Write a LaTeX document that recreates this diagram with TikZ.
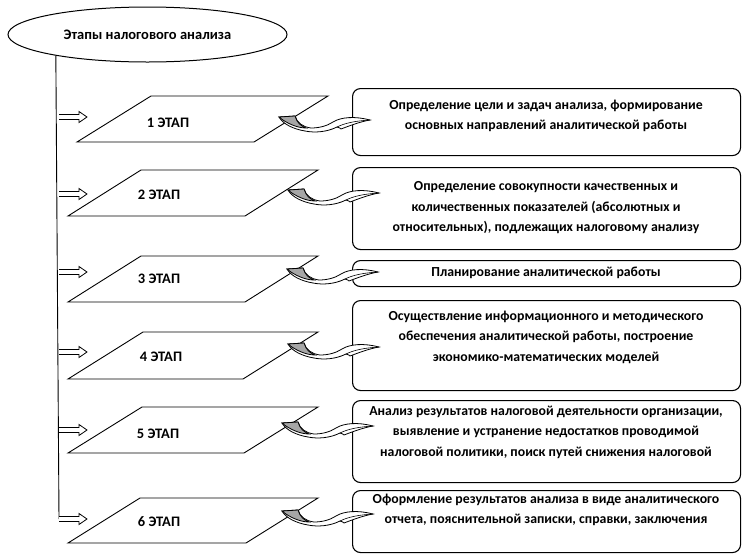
\documentclass[tikz,border=0pt]{standalone}
\usepackage{fontspec}
\setmainfont{Carlito}
\usetikzlibrary{shapes.geometric}
\begin{document}
\begin{tikzpicture}[x=1pt,y=-1pt,line width=0.9pt,
  txt/.style={font=\bfseries\fontsize{14.5}{20}\selectfont, inner sep=0pt},
  boxtxt/.style={font=\bfseries\fontsize{13.8}{20.5}\selectfont, inner sep=0pt, align=center},
  stagebox/.style={draw, rounded corners=8pt, line width=1.1pt, inner sep=0pt, anchor=north west},
  para/.style={draw, fill=white, line width=0.9pt},
  blockarr/.pic={\draw[fill=white, line width=0.8pt] (0,-2.5) -- (20,-2.5) -- (20,-5.5) -- (28,0) -- (20,5.5) -- (20,2.5) -- (0,2.5);},
  curvarr/.pic={
    \draw[fill=white, line width=0.8pt] (0,0) -- (16,-1)
      .. controls (18,6) and (24,10) .. (32,11)
      .. controls (40,11) and (48,9) .. (54,5)
      .. controls (62,0) and (76,-1) .. (91,3)
      .. controls (80,5) and (70,9) .. (62,12)
      .. controls (61,11) .. (58,10)
      .. controls (48,15) and (36,16) .. (26,14)
      .. controls (14,12) and (4,7) .. (0,0) -- cycle;
    \draw[fill=gray!70, line width=0.8pt] (0,0) -- (16,-1)
      .. controls (18,6) and (22,9) .. (27,11)
      .. controls (18,11) and (7,6) .. (0,0) -- cycle;
    \draw[line width=0.6pt] (58,10) .. controls (66,6) and (76,4) .. (91,3);
  }]
\useasboundingbox (0,0) rectangle (744,555);
\fill[white] (0,0) rectangle (744,555);

% title ellipse
\node[ellipse, draw, line width=1pt, minimum width=279pt, minimum height=55pt, txt] (e) at (147.5,34.5) {Этапы налогового анализа};

% spine coordinates
\coordinate (sp1) at (59,117);
\coordinate (sp2) at (59,194);
\coordinate (sp3) at (59,272);
\coordinate (sp4) at (59,352);
\coordinate (sp5) at (59,430);
\coordinate (sp6) at (59,519);
\draw (e.193.5) -- (sp6);

% parallelograms
\draw[para] (77,142) -- ++(74,-46) -- ++(177,0) -- ++(-74,46) -- cycle;
\draw[para] (68,216) -- ++(73,-46) -- ++(177,0) -- ++(-73,46) -- cycle;
\draw[para] (68,302) -- ++(73,-46) -- ++(177,0) -- ++(-73,46) -- cycle;
\draw[para] (68,379) -- ++(75,-47) -- ++(175,0) -- ++(-75,47) -- cycle;
\draw[para] (68,453) -- ++(74,-46) -- ++(176,0) -- ++(-74,46) -- cycle;
\draw[para] (68,543) -- ++(72,-45) -- ++(178,0) -- ++(-72,45) -- cycle;

\node[txt] (l1) at (168,123) {1 ЭТАП};
\node[txt] (l2) at (159,195) {2 ЭТАП};
\node[txt] (l3) at (159,279) {3 ЭТАП};
\node[txt] (l4) at (161,357) {4 ЭТАП};
\node[txt] (l5) at (158,434) {5 ЭТАП};
\node[txt] (l6) at (159,522) {6 ЭТАП};

% block arrows from spine
\foreach \i in {1,...,6} \pic at (sp\i) {blockarr};

% boxes
\node[stagebox, minimum width=388pt, minimum height=67pt] (b1) at (352,88) {};
\node[stagebox, minimum width=388pt, minimum height=82pt] (b2) at (352,167) {};
\node[stagebox, minimum width=388pt, minimum height=26pt] (b3) at (352,260) {};
\node[stagebox, minimum width=388pt, minimum height=90pt] (b4) at (352,300) {};
\node[stagebox, minimum width=388pt, minimum height=82pt] (b5) at (352,400) {};
\node[stagebox, minimum width=388pt, minimum height=62pt] (b6) at (352,490) {};

\node[boxtxt] (t1) at (546,116) {Определение цели и задач анализа, формирование\\основных направлений аналитической работы};
\node[boxtxt] (t2) at (546,208) {Определение совокупности качественных и\\количественных показателей (абсолютных и\\относительных), подлежащих налоговому анализу};
\node[boxtxt] (t3) at (546,273) {Планирование аналитической работы};
\node[boxtxt] (t4) at (546,337) {Осуществление информационного и методического\\обеспечения аналитической работы, построение\\экономико-математических моделей};
\node[boxtxt] (t5) at (546,432) {Анализ результатов налоговой деятельности организации,\\выявление и устранение недостатков проводимой\\налоговой политики, поиск путей снижения налоговой};
\node[boxtxt] (t6) at (546,510) {Оформление результатов анализа в виде аналитического\\отчета, пояснительной записки, справки, заключения};

% curved connectors
\pic at (279,117) {curvarr};
\pic at (288,190) {curvarr};
\pic at (287,269) {curvarr};
\pic at (288,344) {curvarr};
\pic at (282,423) {curvarr};
\pic at (282,511) {curvarr};
\end{tikzpicture}
\end{document}
